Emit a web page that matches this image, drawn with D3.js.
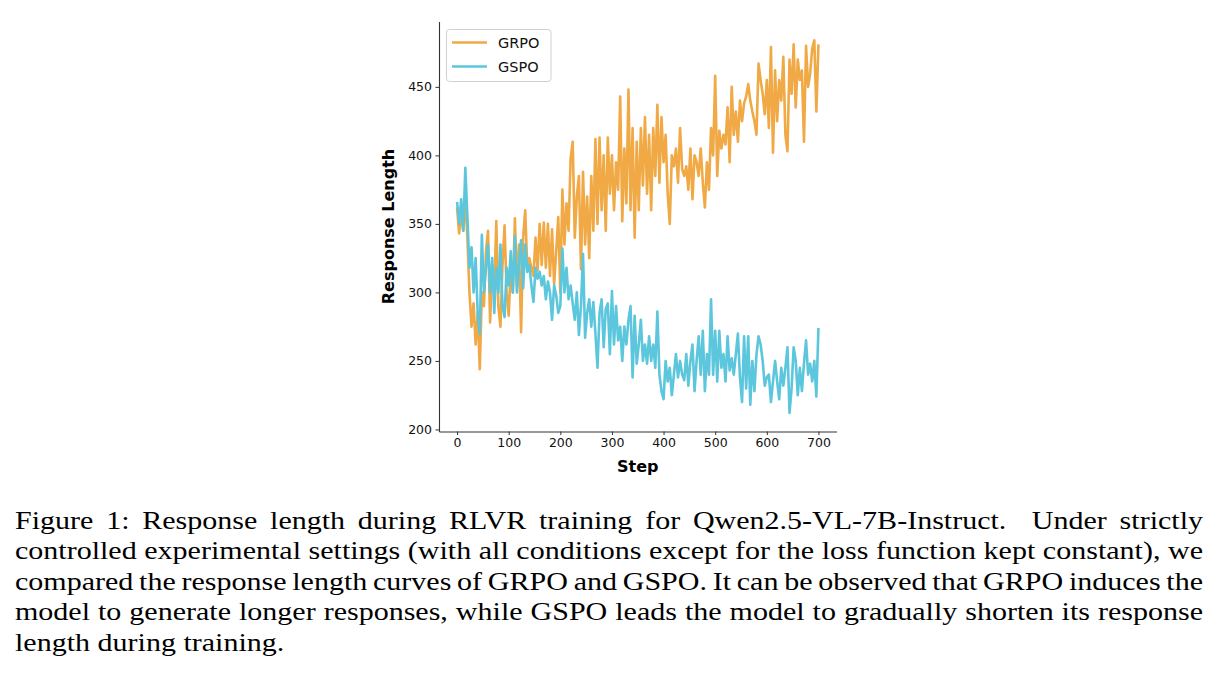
<!DOCTYPE html>
<html><head><meta charset="utf-8">
<script src="https://cdn.jsdelivr.net/npm/d3@7"></script>
<style>body{margin:0;background:#fff}</style>
</head><body>
<svg id="c" width="1220" height="684"></svg>
<script>
const stepSize = 4;
const grpo = [
362,343,358,345,368,340,300,275,292,262,
285,244,300,290,330,345,278,320,300,352,
290,275,320,349,300,283,318,300,354,305,
335,271,340,360,318,325,318,312,340,316,
350,320,351,318,350,312,346,306,330,355,
300,375,335,365,345,398,410,340,370,385,
317,388,335,370,325,385,345,412,350,413,
360,400,345,413,372,400,360,395,375,443,
352,405,365,448,360,420,340,410,360,420,
378,428,372,415,360,420,385,437,380,428,
395,415,372,350,400,392,405,380,420,390,
385,392,375,405,368,400,395,385,405,380,
362,395,375,420,400,458,385,418,405,415,
408,435,395,450,415,432,410,440,425,438,
443,452,440,432,425,415,467,455,445,430,
455,420,479,402,462,425,455,440,472,415,
403,470,445,481,435,470,455,462,410,480,
450,460,478,484,432,481];
const gspo = [
366,350,368,345,391,355,318,333,300,325,
284,270,342,300,318,335,300,325,285,318,
300,335,290,282,318,305,330,300,341,300,
320,338,303,335,315,320,305,293,318,310,
315,305,312,295,308,300,280,305,298,285,
290,332,300,318,295,305,292,280,300,269,
290,328,267,285,295,275,293,270,245,285,
295,260,288,292,255,301,262,290,265,275,
250,275,262,280,290,238,283,248,262,280,
250,262,248,268,250,262,245,286,240,228,
222,250,235,245,225,240,255,238,250,240,
236,255,232,250,262,228,250,268,240,272,
228,255,240,295,240,272,235,272,245,255,
235,268,243,252,240,255,270,238,220,268,
230,268,218,250,228,255,268,262,250,232,
238,240,220,235,250,235,222,245,232,245,
260,212,230,260,250,225,245,228,248,265,
240,248,235,250,224,274];
const seriesNames = ["GRPO","GSPO"];
const colors = ["#f0a945","#5bc6dc"];
const xTicks = [0,100,200,300,400,500,600,700];
const yTicks = [200,250,300,350,400,450];
const captionLines = [
"Figure 1: Response length during RLVR training for Qwen2.5-VL-7B-Instruct.  Under strictly",
"controlled experimental settings (with all conditions except for the loss function kept constant), we",
"compared the response length curves of GRPO and GSPO. It can be observed that GRPO induces the",
"model to generate longer responses, while GSPO leads the model to gradually shorten its response",
"length during training."];

const svg = d3.select("#c");
const L = 439, R = 836.5, T = 21.5, B = 431.5;
const x = d3.scaleLinear().domain([-35, 735]).range([L, R]);
const y = d3.scaleLinear().domain([198.5, 497.7]).range([B, T]);

const font = "DejaVu Sans, sans-serif";
const g = svg.append("g");

const line = d3.line().x((d,i)=>x(i*stepSize)).y(d=>y(d));
[grpo, gspo].forEach((s,k)=>{
  g.append("path").datum(s).attr("d", line).attr("fill","none")
    .attr("stroke", colors[k]).attr("stroke-width", 2.6).attr("stroke-linejoin","round");
});

const xa = g.append("g").attr("transform",`translate(0,${B})`)
  .call(d3.axisBottom(x).tickValues(xTicks).tickSize(3.5).tickPadding(3.5).tickSizeOuter(0));
const ya = g.append("g").attr("transform",`translate(${L},0)`)
  .call(d3.axisLeft(y).tickValues(yTicks).tickSize(3.5).tickPadding(3.5).tickSizeOuter(0));
[xa,ya].forEach(a=>{
  a.selectAll("text").attr("font-family",font).attr("font-size",12.5).attr("fill","#111");
  a.selectAll("line").attr("stroke","#333").attr("stroke-width",1);
  a.select(".domain").attr("stroke","#333").attr("stroke-width",1.1);
});

g.append("text").attr("x",(L+R)/2).attr("y",472).attr("text-anchor","middle")
  .attr("font-family",font).attr("font-weight","bold").attr("font-size",16).text("Step");
g.append("text").attr("transform",`translate(394,${(T+B)/2}) rotate(-90)`).attr("text-anchor","middle")
  .attr("font-family",font).attr("font-weight","bold").attr("font-size",16).text("Response Length");

// legend
const lg = g.append("g");
lg.append("rect").attr("x",446.5).attr("y",29.5).attr("width",104.5).attr("height",52).attr("rx",3)
  .attr("fill","#fff").attr("fill-opacity",0.8).attr("stroke","#d0d0d0");
seriesNames.forEach((n,k)=>{
  const yy = 42.5 + k*24;
  lg.append("line").attr("x1",452).attr("x2",487).attr("y1",yy).attr("y2",yy)
    .attr("stroke",colors[k]).attr("stroke-width",2.6);
  lg.append("text").attr("x",498).attr("y",yy+5).attr("font-family",font).attr("font-size",14.5)
    .attr("fill","#111").text(n);
});

// caption (horizontally stretched serif, justified)
const sx = 1.155;
const cap = svg.append("g").attr("transform",`translate(15,0) scale(${sx},1)`);
captionLines.forEach((t,i)=>{
  const tx = cap.append("text").attr("x",0).attr("y",529+i*30.5)
    .attr("font-family","Liberation Serif, Times New Roman, serif").attr("font-size",26)
    .attr("fill","#000").style("white-space","pre").text(t);
  if (i < captionLines.length-1) {
    const w = tx.node().getComputedTextLength();
    const nsp = (t.match(/ /g)||[]).length;
    const target = (1203 - 15)/sx;
    tx.attr("word-spacing", ((target - w)/nsp).toFixed(3));
  }
});
</script>
</body></html>
